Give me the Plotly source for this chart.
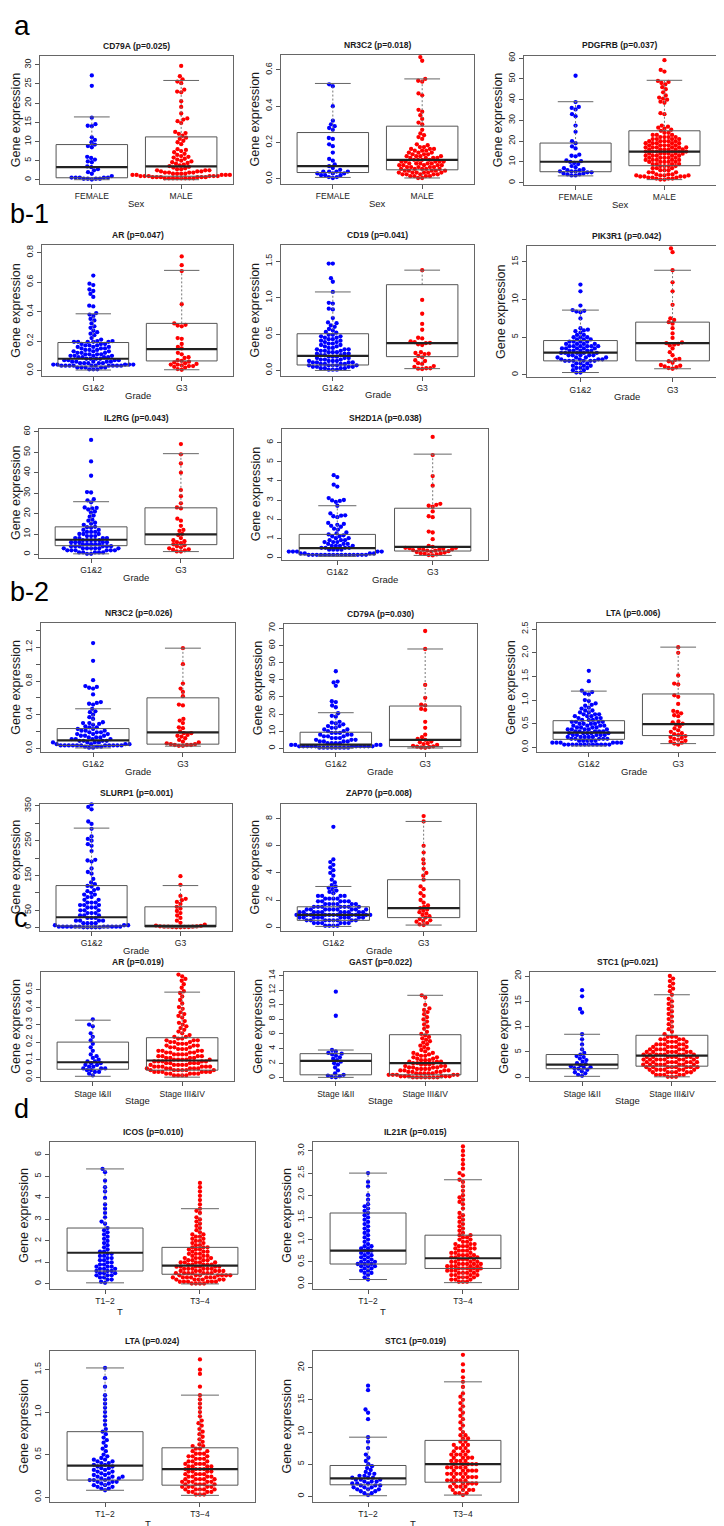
import math
import plotly.graph_objects as go

# ------------------------------------------------------------------ data
# (a) Sex
a_cd79a_female = [27.2, 24.5, 16.2, 14.5, 14.1, 14.0, 11.1, 10.4, 9.8, 9.2, 8.8, 8.5, 6.0, 5.7, 5.3, 4.8, 4.6, 3.5, 3.3, 2.8, 2.5, 2.0, 1.6, 1.0, *[0.6]*5, *[0.3]*4, 0.1]
a_cd79a_male = [29.7, 27.0, 26.2, 25.6, 25.2, 23.5, 23.0, 22.8, 20.5, 19.0, 17.3, 16.0, 15.7, 15.3, 14.8, 12.5, 12.2, 12.0, 11.5, 11.0, 10.7, 10.2, 9.8, 9.3, 8.0, 7.8, 7.5, 7.2, 6.8, 6.5, 6.2, 6.0, 5.8, 5.5, 5.3, 5.0, 4.8, 4.6, 4.4, 4.2, 4.0, 3.8, 3.6, 3.4, 3.2, 3.0, *[2.8]*2, *[2.5]*3, *[2.2]*3, *[1.9]*4, *[1.6]*4, *[1.3]*5, *[1.0]*6, *[0.7]*6, *[0.4]*8]
a_nr3c2_female = [0.52, 0.51, 0.40, 0.32, 0.30, 0.29, 0.28, 0.27, 0.225, 0.22, 0.19, 0.18, 0.145, 0.11, 0.10, 0.08, 0.07, 0.06, 0.05, *[0.04]*4, *[0.03]*3, *[0.02]*3, *[0.01]*2, 0.005]
a_nr3c2_male = [0.67, 0.65, 0.55, 0.54, 0.535, 0.47, 0.46, 0.38, 0.37, 0.35, 0.33, 0.31, 0.30, 0.27, 0.25, 0.24, 0.23, 0.22, 0.19, 0.185, *[0.175]*2, *[0.165]*3, *[0.155]*3, *[0.145]*3, *[0.135]*3, *[0.125]*4, *[0.115]*4, *[0.105]*4, *[0.095]*5, *[0.085]*5, *[0.075]*5, *[0.065]*5, *[0.055]*5, *[0.045]*5, *[0.035]*6, *[0.025]*5, *[0.015]*4, *[0.005]*2]
a_pdgfrb_female = [51.5, 38.8, 36.5, 36.0, 35.3, 33.0, 32.0, 27.5, 24.5, 20.0, 19.0, 17.5, 16.5, 13.5, 13.0, 12.7, 10.7, 10.4, 10.0, 9.5, 9.0, 8.0, 7.5, 7.0, 6.5, *[6.0]*2, *[5.5]*3, *[5.0]*2, *[4.5]*2, *[4.0]*2, *[3.5]*2]
a_pdgfrb_male = [59.0, 54.3, 53.5, 49.0, 48.5, 48.0, 47.3, 46.0, 45.0, 43.5, 42.0, 41.0, 40.5, 40.0, 39.0, 38.5, 33.5, 33.0, 27.5, 27.0, 26.5, 26.0, 25.5, 25.0, *[24]*2, *[23]*3, *[22]*4, *[21]*4, *[20]*5, *[19]*5, *[18]*5, *[17]*6, *[16]*6, *[15]*6, *[14]*6, *[13]*5, *[12]*5, *[11]*5, *[10]*5, *[9]*4, *[8]*4, *[7]*3, *[6]*3, *[5]*3, *[4]*3, *[3.5]*4, *[3]*4, *[2.5]*3, *[2]*3, *[1.5]*2]
# box stats: lower whisker, Q1, median, Q3, upper whisker
a_cd79a_female_box = [0.05, 0.55, 3.3, 9.2, 16.4]
a_cd79a_male_box = [0.05, 0.95, 3.5, 11.2, 25.9]
a_nr3c2_female_box = [0.008, 0.035, 0.07, 0.255, 0.525]
a_nr3c2_male_box = [0.005, 0.05, 0.105, 0.29, 0.55]
a_pdgfrb_female_box = [3.3, 5.3, 10.1, 19.1, 39.0]
a_pdgfrb_male_box = [1.5, 8.2, 15.0, 25.0, 49.3]

# (b-1) Grade
b1_ar_g12 = [0.645, 0.59, 0.58, 0.55, 0.54, 0.52, 0.50, 0.44, 0.435, 0.39, 0.38, 0.37, 0.35, 0.34, 0.32, 0.30, 0.29, 0.27, 0.26, 0.25, 0.24, 0.22, 0.21, 0.20, 0.20, *[0.195]*5, *[0.18]*3, *[0.17]*3, *[0.16]*3, *[0.15]*3, *[0.14]*3, *[0.13]*3, *[0.12]*3, *[0.11]*4, *[0.10]*4, *[0.09]*4, *[0.08]*4, *[0.07]*4, *[0.06]*5, *[0.05]*5, *[0.04]*5, *[0.033]*10, *[0.02]*5, *[0.008]*3]
b1_ar_g3 = [0.775, 0.715, 0.675, 0.45, 0.32, 0.31, 0.305, 0.30, 0.22, 0.215, 0.18, 0.16, 0.15, 0.12, 0.11, 0.09, 0.085, 0.07, 0.065, 0.06, 0.055, 0.05, 0.045, 0.04, 0.04, 0.035, 0.03, 0.03, 0.025, 0.02, 0.01, 0.005]
b1_cd19_g12 = [1.47, 1.47, 1.27, 1.22, 1.08, 0.93, 0.92, 0.85, 0.84, 0.72, 0.66, 0.65, 0.62, 0.60, 0.57, 0.55, 0.53, 0.52, *[0.49]*2, *[0.47]*2, *[0.45]*2, *[0.43]*2, *[0.41]*2, *[0.39]*2, *[0.37]*2, *[0.35]*2, *[0.33]*2, *[0.31]*2, *[0.29]*3, *[0.27]*3, *[0.25]*3, *[0.23]*3, *[0.21]*3, *[0.19]*3, *[0.17]*3, *[0.15]*3, *[0.13]*4, *[0.11]*4, *[0.09]*4, *[0.07]*5, *[0.05]*4, *[0.03]*4, *[0.01]*3]
b1_cd19_g3 = [1.38, 0.97, 0.78, 0.64, 0.56, 0.45, 0.44, 0.40, 0.39, 0.38, 0.375, 0.36, 0.35, 0.25, 0.24, 0.23, 0.225, 0.20, 0.18, 0.14, 0.13, 0.10, 0.09, 0.06, 0.05, 0.03, 0.03, 0.025, 0.02]
b1_pik3r1_g12 = [12.0, 11.1, 9.2, 8.6, 8.5, 8.4, 8.3, 7.5, 6.2, 6.0, 5.9, 5.8, 5.6, *[5.3]*2, *[5.0]*3, *[4.7]*3, *[4.4]*4, *[4.1]*4, *[3.8]*6, *[3.5]*5, *[3.2]*5, *[2.9]*5, *[2.6]*5, *[2.3]*4, *[2.05]*4, *[1.85]*6, *[1.5]*3, *[1.2]*3, *[0.9]*3, *[0.6]*2, *[0.3]*2]
b1_pik3r1_g3 = [16.8, 16.3, 13.9, 12.3, 11.1, 9.3, 7.5, 7.3, 7.0, 6.8, 6.2, 5.5, 4.9, 4.3, 4.2, 4.1, 4.0, 3.9, 3.5, 3.0, 2.6, 2.1, 2.0, 1.8, 1.6, 1.3, 1.2, 1.1, 1.0, 0.9, 0.8]
b1_il2rg_g12 = [56.0, 45.5, 38.5, 30.5, 30.3, 27.0, 26.5, 25.5, 23.0, 22.8, 22.5, 22.0, 21.0, 20.5, 19.0, 18.5, 17.0, 16.5, 15.5, 15.0, 14.5, 13.5, 13.3, 13.0, *[12]*2, *[11]*3, *[10]*3, *[9]*3, *[8]*4, *[7]*5, *[6]*5, *[5]*5, *[4]*6, *[3]*7, *[2]*6, *[1]*5, *[0.3]*2]
b1_il2rg_g3 = [54.0, 49.0, 44.5, 40.0, 31.5, 28.5, 25.0, 23.0, 22.5, 17.5, 16.5, 14.0, 12.0, 11.5, 10.0, 9.5, 8.0, 7.0, 6.5, 6.0, 5.5, 5.0, 4.5, 4.0, 3.5, 3.0, 2.5, 2.3, 2.0, 1.5, 1.4]
b1_sh2d1a_g12 = [4.3, 4.2, 3.8, 3.7, 3.1, 3.0, 2.98, 2.95, 2.9, 2.7, 2.3, 2.2, 2.18, 2.15, 2.1, 1.8, 1.75, 1.7, 1.65, 1.6, 1.5, 1.45, 1.3, 1.25, 1.2, 1.15, *[1.1]*2, *[1.0]*2, *[0.9]*3, *[0.8]*3, *[0.7]*3, *[0.6]*4, *[0.5]*4, *[0.4]*4, *[0.3]*5, *[0.2]*4, *[0.13]*15]
b1_sh2d1a_g3 = [6.3, 5.35, 4.25, 3.75, 2.8, 2.75, 2.7, 2.65, 2.4, 2.15, 2.1, 1.35, 1.3, 0.95, 0.6, 0.55, 0.5, 0.5, 0.48, 0.45, 0.45, 0.42, 0.4, 0.4, 0.38, 0.35, 0.35, 0.32, 0.3, 0.28, 0.25, 0.22, 0.2, 0.18, 0.15, 0.12, 0.1]
b1_ar_g12_box = [0.003, 0.03, 0.08, 0.19, 0.385]
b1_ar_g3_box = [0.005, 0.065, 0.145, 0.32, 0.68]
b1_cd19_g12_box = [0.0, 0.075, 0.2, 0.505, 1.08]
b1_cd19_g3_box = [0.025, 0.19, 0.375, 1.18, 1.38]
b1_pik3r1_g12_box = [0.3, 1.85, 2.95, 4.55, 8.6]
b1_pik3r1_g3_box = [0.8, 1.85, 4.2, 7.0, 13.9]
b1_il2rg_g12_box = [0.3, 4.3, 7.2, 13.5, 25.8]
b1_il2rg_g3_box = [1.4, 4.8, 9.8, 22.8, 49.3]
b1_sh2d1a_g12_box = [0.05, 0.13, 0.48, 1.2, 2.7]
b1_sh2d1a_g3_box = [0.1, 0.33, 0.55, 2.57, 5.4]

# (b-2) Grade
b2_nr3c2_g12 = [1.25, 1.04, 0.81, 0.74, 0.73, 0.72, 0.71, 0.64, 0.55, 0.54, 0.53, 0.52, 0.47, 0.44, 0.43, 0.40, 0.37, 0.35, 0.31, 0.30, 0.30, 0.29, 0.28, 0.26, 0.25, 0.25, *[0.23]*2, *[0.21]*3, *[0.19]*3, *[0.17]*3, *[0.15]*3, *[0.13]*3, *[0.11]*4, *[0.09]*4, *[0.07]*4, *[0.05]*4, *[0.035]*11, *[0.02]*3, *[0.008]*2]
b2_nr3c2_g3 = [1.19, 1.0, 0.77, 0.71, 0.67, 0.62, 0.52, 0.51, 0.35, 0.33, 0.30, 0.25, 0.24, 0.20, 0.18, 0.18, 0.16, 0.15, 0.14, 0.12, 0.10, 0.08, 0.07, 0.06, 0.05, 0.05, 0.04, 0.04, 0.04, 0.03, 0.03]
b2_cd79a_g12 = [45.0, 39.0, 38.5, 36.5, 27.5, 27.0, 25.0, 24.0, 20.5, 19.0, 18.5, 15.5, 15.0, 14.5, 14.0, *[13]*2, *[12]*2, *[11]*2, *[10]*2, *[9]*3, *[8]*3, *[7]*3, *[6]*3, *[5]*3, *[4]*4, *[3]*4, *[2]*4, *[1.2]*11, *[0.4]*8]
b2_cd79a_g3 = [68.5, 58.0, 37.0, 29.5, 25.5, 25.0, 23.0, 22.5, 15.5, 12.0, 8.0, 6.5, 5.5, 5.0, 4.0, 3.5, 3.0, 2.5, 2.0, 1.5, 1.2, 1.0, 0.8, 0.5, 0.3]
b2_lta_g12 = [1.62, 1.40, 1.2, 1.17, 1.14, 1.12, 1.0, 0.98, 0.93, 0.90, 0.88, 0.84, 0.82, *[0.78]*2, *[0.74]*2, *[0.70]*3, *[0.66]*3, *[0.62]*3, *[0.58]*3, *[0.54]*4, *[0.50]*4, *[0.46]*4, *[0.42]*4, *[0.38]*5, *[0.34]*5, *[0.30]*5, *[0.26]*5, *[0.22]*5, *[0.18]*5, *[0.14]*5, *[0.10]*6, *[0.06]*12]
b2_lta_g3 = [2.12, 2.0, 1.52, 1.35, 1.33, 1.1, 1.07, 0.92, 0.77, 0.75, 0.72, 0.68, 0.66, 0.55, 0.53, 0.5, 0.48, 0.44, 0.4, 0.36, 0.33, 0.3, 0.28, 0.26, 0.24, 0.22, 0.2, 0.18, 0.16, 0.14, 0.12, 0.1, 0.08, 0.06]
b2_slurp1_g12 = [354, 347, 340, 305, 298, 284, 262, 255, 250, 240, 235, 220, 195, 193, 190, 170, 160, 155, 140, 130, 125, 120, 118, 112, 108, 105, 100, *[95]*2, *[88]*2, *[80]*2, *[72]*3, *[65]*3, *[58]*3, *[50]*3, *[42]*3, *[35]*3, *[28]*3, *[20]*4, *[13]*4, *[7]*3, *[3]*11, *[1]*5]
b2_slurp1_g3 = [148, 123, 91, 83, 79, 74, 68, 60, 55, 48, 42, 35, 28, 20, 14, 9, 6, 5, 4, 4, 3, 3, 3, 2, 2, 2, 1, 1]
b2_zap70_g12 = [7.4, 5.0, 4.8, 4.6, 4.4, 4.2, 4.0, 3.8, 3.5, 3.3, 3.1, 3.0, 2.9, 2.8, 2.7, 2.6, 2.5, *[2.3]*4, *[2.1]*4, *[1.9]*5, *[1.7]*6, *[1.5]*7, *[1.3]*9, *[1.1]*10, *[0.9]*11, *[0.7]*10, *[0.5]*8, *[0.3]*6, *[0.1]*4]
b2_zap70_g3 = [8.2, 7.8, 6.0, 5.5, 5.0, 4.7, 4.3, 4.0, 3.8, 3.5, 3.0, 2.8, 2.5, 2.3, 2.0, 1.8, 1.6, 1.5, 1.4, 1.3, 1.2, 1.1, 1.0, 0.9, 0.8, 0.7, 0.6, 0.5, 0.45, 0.4, 0.3, 0.2, 0.15]
b2_nr3c2_g12_box = [0.005, 0.035, 0.095, 0.235, 0.47]
b2_nr3c2_g3_box = [0.026, 0.05, 0.19, 0.6, 1.19]
b2_cd79a_g12_box = [0.1, 0.6, 2.2, 9.4, 20.8]
b2_cd79a_g3_box = [0.2, 1.0, 5.0, 24.7, 58.0]
b2_lta_g12_box = [0.03, 0.17, 0.31, 0.565, 1.19]
b2_lta_g3_box = [0.08, 0.25, 0.49, 1.13, 2.12]
b2_slurp1_g12_box = [0, 5, 30, 121, 286]
b2_slurp1_g3_box = [0, 2, 5, 60, 121]
b2_zap70_g12_box = [0.05, 0.5, 0.9, 1.5, 3.0]
b2_zap70_g3_box = [0.15, 0.7, 1.4, 3.5, 7.8]

# (c) Stage
c_ar_s12 = [0.33, 0.30, 0.29, 0.25, 0.23, 0.21, 0.19, 0.17, 0.15, 0.13, 0.12, 0.11, 0.1, 0.09, 0.09, 0.08, 0.08, 0.07, 0.07, 0.06, 0.06, 0.05, 0.05, 0.05, 0.04, 0.04, 0.03, 0.03, 0.02, 0.01]
c_ar_s34 = [0.585, 0.575, 0.56, 0.55, 0.53, 0.51, 0.49, 0.48, 0.46, 0.44, 0.42, 0.40, 0.39, 0.37, 0.36, 0.35, 0.34, 0.32, 0.31, 0.30, 0.29, 0.28, 0.27, 0.26, 0.25, 0.24, *[0.23]*2, *[0.22]*2, *[0.21]*3, *[0.20]*3, *[0.19]*3, *[0.18]*3, *[0.17]*3, *[0.16]*3, *[0.15]*4, *[0.14]*4, *[0.13]*4, *[0.12]*4, *[0.11]*4, *[0.10]*5, *[0.09]*5, *[0.08]*5, *[0.07]*5, *[0.06]*6, *[0.05]*6, *[0.04]*6, *[0.03]*6, *[0.02]*5, *[0.01]*4]
c_gast_s12 = [11.8, 8.5, 3.8, 3.6, 3.4, 3.3, 3.2, 3.0, 2.8, 2.6, 2.4, 2.2, 2.0, 1.8, 1.4, 1.0, 0.6, 0.4, 0.3, 0.2, 0.1, 0.05]
c_gast_s34 = [11.3, 11.0, 10.0, 9.5, 9.3, 9.0, 8.7, 8.3, 8.0, 7.7, 7.3, 7.0, 6.7, 6.3, 6.0, 5.8, 5.6, 5.4, 5.2, 5.0, 4.8, 4.6, 4.4, 4.2, 4.0, 3.8, 3.6, *[3.4]*2, *[3.2]*2, *[3.0]*2, *[2.8]*2, *[2.6]*2, *[2.4]*3, *[2.2]*3, *[2.0]*3, *[1.8]*3, *[1.6]*3, *[1.4]*4, *[1.2]*4, *[1.0]*4, *[0.8]*4, *[0.6]*5, *[0.4]*5, *[0.2]*6, *[0.05]*7]
c_stc1_s12 = [17.2, 16.0, 13.5, 12.8, 8.5, 7.5, 6.5, 5.5, 4.8, 4.5, 4.2, 4.0, 3.7, 3.4, 3.1, 2.8, 2.6, 2.4, 2.2, 2.0, 1.9, 1.8, 1.7, 1.5, 1.2, 1.0, 0.8, 0.5, 0.3]
c_stc1_s34 = [20.0, 19.5, 19.0, 18.5, 18.0, 17.5, 17.0, 16.3, 15.5, 15.0, 14.5, 14.0, 13.5, 13.0, 12.5, 12.0, 11.5, 11.0, 10.5, 10.0, 9.5, 9.0, 8.5, *[8.0]*3, *[7.5]*4, *[7.0]*4, *[6.5]*5, *[6.0]*5, *[5.5]*6, *[5.0]*7, *[4.5]*8, *[4.0]*8, *[3.5]*8, *[3.0]*8, *[2.5]*8, *[2.0]*8, *[1.5]*7, *[1.0]*6, *[0.5]*5, *[0.1]*3]
c_ar_s12_box = [0.005, 0.045, 0.085, 0.2, 0.325]
c_ar_s34_box = [0.0, 0.04, 0.095, 0.225, 0.485]
c_gast_s12_box = [0.05, 0.4, 2.3, 3.3, 3.8]
c_gast_s34_box = [0.0, 0.4, 2.0, 5.9, 11.3]
c_stc1_s12_box = [0.2, 1.7, 2.5, 4.5, 8.5]
c_stc1_s34_box = [0.1, 2.2, 4.3, 8.3, 16.3]

# (d) T
d_icos_t12 = [5.35, 5.2, 4.8, 4.5, 4.3, 4.0, 3.7, 3.5, 3.3, 3.1, 2.9, 2.8, 2.6, 2.5, 2.4, 2.3, 2.2, 2.1, 2.0, 1.9, 1.8, 1.7, 1.6, *[1.5]*2, *[1.4]*2, *[1.3]*2, *[1.2]*2, *[1.1]*2, *[1.0]*2, *[0.9]*2, *[0.8]*3, *[0.7]*3, *[0.6]*3, *[0.5]*3, *[0.4]*3, *[0.3]*2, *[0.2]*2, 0.1, 0.05]
d_icos_t34 = [4.7, 4.5, 4.3, 4.1, 3.9, 3.7, 3.5, 3.4, 3.3, 3.1, 3.0, 2.9, 2.8, 2.7, 2.6, 2.5, 2.4, *[2.3]*2, *[2.2]*2, *[2.1]*2, *[2.0]*2, *[1.9]*2, *[1.8]*2, *[1.7]*3, *[1.6]*3, *[1.5]*3, *[1.4]*3, *[1.3]*3, *[1.2]*4, *[1.1]*4, *[1.0]*5, *[0.9]*5, *[0.8]*6, *[0.7]*6, *[0.6]*6, *[0.5]*7, *[0.4]*7, *[0.3]*7, *[0.2]*6, *[0.1]*6, *[0.02]*4]
d_il21r_t12 = [2.5, 2.3, 2.2, 2.0, 1.9, 1.8, 1.75, 1.7, 1.65, 1.6, 1.55, 1.5, 1.45, 1.4, 1.35, 1.3, 1.25, 1.2, 1.15, 1.1, 1.05, 1.0, 0.95, 0.9, *[0.85]*2, *[0.8]*2, *[0.75]*2, *[0.7]*2, *[0.65]*2, *[0.6]*2, *[0.55]*2, *[0.5]*3, *[0.45]*3, *[0.4]*3, *[0.35]*2, *[0.3]*2, *[0.25]*2, 0.2, 0.15, 0.1]
d_il21r_t34 = [3.1, 3.0, 2.9, 2.8, 2.7, 2.6, 2.5, 2.45, 2.35, 2.3, 2.2, 2.1, 2.0, 1.95, 1.9, 1.85, 1.8, 1.7, 1.6, 1.55, 1.5, 1.45, 1.4, 1.35, 1.3, 1.25, 1.2, 1.15, *[1.1]*2, *[1.05]*2, *[1.0]*2, *[0.95]*2, *[0.9]*3, *[0.85]*3, *[0.8]*3, *[0.75]*3, *[0.7]*3, *[0.65]*4, *[0.6]*4, *[0.55]*4, *[0.5]*4, *[0.45]*5, *[0.4]*5, *[0.35]*5, *[0.3]*5, *[0.25]*4, *[0.2]*4, *[0.15]*4, *[0.1]*3, *[0.05]*3]
d_lta_t12 = [1.52, 1.4, 1.3, 1.2, 1.15, 1.1, 1.05, 1.0, 0.95, 0.9, 0.85, 0.8, 0.77, 0.74, 0.7, 0.67, 0.64, 0.6, 0.57, 0.54, 0.5, 0.48, 0.46, *[0.44]*2, *[0.42]*2, *[0.4]*2, *[0.38]*2, *[0.36]*2, *[0.34]*2, *[0.32]*2, *[0.3]*2, *[0.28]*2, *[0.26]*2, *[0.24]*3, *[0.22]*3, *[0.2]*3, *[0.18]*3, *[0.16]*2, *[0.14]*2, *[0.12]*2, *[0.1]*2, 0.08]
d_lta_t34 = [1.62, 1.5, 1.45, 1.3, 1.2, 1.15, 1.1, 1.05, 1.0, 0.95, 0.9, 0.87, 0.84, 0.8, 0.77, 0.74, 0.71, 0.68, 0.65, 0.62, *[0.6]*2, *[0.57]*2, *[0.54]*2, *[0.51]*3, *[0.48]*3, *[0.45]*3, *[0.42]*3, *[0.39]*4, *[0.36]*4, *[0.33]*4, *[0.3]*4, *[0.27]*4, *[0.24]*4, *[0.21]*5, *[0.18]*5, *[0.15]*5, *[0.12]*5, *[0.09]*5, *[0.06]*4, *[0.03]*3]
d_stc1_t12 = [17.2, 16.5, 13.5, 13.0, 12.0, 9.2, 8.5, 7.5, 6.5, 6.0, 5.5, 5.0, 4.7, 4.4, 4.1, 3.8, *[3.5]*2, *[3.2]*2, *[2.9]*3, *[2.6]*3, *[2.3]*3, *[2.0]*3, *[1.7]*3, *[1.4]*3, *[1.1]*3, *[0.8]*2, *[0.5]*2, 0.2]
d_stc1_t34 = [22.0, 20.5, 19.5, 18.5, 17.8, 17.0, 16.0, 15.5, 15.0, 14.5, 14.0, 13.5, 13.0, 12.5, 12.0, 11.5, 11.0, 10.5, 10.0, *[9.5]*2, *[9.0]*2, *[8.5]*2, *[8.0]*3, *[7.5]*3, *[7.0]*3, *[6.5]*4, *[6.0]*4, *[5.5]*4, *[5.0]*5, *[4.5]*5, *[4.0]*5, *[3.5]*5, *[3.0]*5, *[2.5]*5, *[2.0]*5, *[1.5]*4, *[1.0]*4, *[0.5]*3, 0.2]
d_icos_t12_box = [0.05, 0.6, 1.45, 2.6, 5.35]
d_icos_t34_box = [0.0, 0.45, 0.85, 1.7, 3.5]
d_il21r_t12_box = [0.1, 0.45, 0.75, 1.6, 2.5]
d_il21r_t34_box = [0.03, 0.35, 0.58, 1.1, 2.35]
d_lta_t12_box = [0.08, 0.2, 0.37, 0.77, 1.52]
d_lta_t34_box = [0.02, 0.14, 0.33, 0.58, 1.2]
d_stc1_t12_box = [0.1, 1.8, 2.8, 4.8, 9.2]
d_stc1_t34_box = [0.2, 2.2, 5.0, 8.7, 17.8]

sex_labels = ["FEMALE", "MALE"]
grade_labels = ["G1&2", "G3"]
stage_labels = ["Stage I&II", "Stage III&IV"]
t_labels = ["T1\u22122", "T3\u22124"]

# ------------------------------------------------------------------ layout
W, H = 724, 1526
FONT = "Liberation Sans"
BLUE, RED = "#0000ff", "#ff0000"
XR = (0.42, 2.58)


def ticks(start, stop, step, fmt, show=None):
    vals, txt = [], []
    n = int(round((stop - start) / step))
    for i in range(n + 1):
        v = start + i * step
        vals.append(v)
        lab = fmt.format(v)
        if show is not None and i not in show:
            lab = ""
        txt.append(lab)
    return vals, txt


panels = [
    # title, frame(x0,x1,top,bottom), yrange, yticks, cats, xlabel, xlabel position (x, offset), groups
    ("CD79A (p=0.025)", (32, 225, 41.5, 170), (-1.1, 32.2), ticks(0, 30, 5, "{:.0f}"), sex_labels, "Sex", (None, 19.5),
     [(a_cd79a_female, a_cd79a_female_box), (a_cd79a_male, a_cd79a_male_box)]),
    ("NR3C2 (p=0.018)", (273, 466, 40.5, 169.5), (-0.026, 0.68), ticks(0, 0.6, 0.2, "{:.1f}"), sex_labels, "Sex", (None, 19.5),
     [(a_nr3c2_female, a_nr3c2_female_box), (a_nr3c2_male, a_nr3c2_male_box)]),
    ("PDGFRB (p=0.037)", (516, 708, 41, 170.5), (-0.9, 61.1), ticks(0, 60, 10, "{:.0f}"), sex_labels, "Sex", (None, 19.5),
     [(a_pdgfrb_female, a_pdgfrb_female_box), (a_pdgfrb_male, a_pdgfrb_male_box)]),
    ("AR (p=0.047)", (34, 225, 231.7, 363), (-0.038, 0.849), ticks(0, 0.8, 0.2, "{:.1f}"), grade_labels, "Grade", (None, 19.5),
     [(b1_ar_g12, b1_ar_g12_box), (b1_ar_g3, b1_ar_g3_box)]),
    ("CD19 (p=0.041)", (273, 466, 231.5, 362.5), (-0.071, 1.722), ticks(0, 1.5, 0.5, "{:.1f}"), grade_labels, "Grade", (None, 19.5),
     [(b1_cd19_g12, b1_cd19_g12_box), (b1_cd19_g3, b1_cd19_g3_box)]),
    ("PIK3R1 (p=0.042)", (519, 718, 232.7, 364.4), (-0.36, 17.06), ticks(0, 15, 5, "{:.0f}"), grade_labels, "Grade", (None, 19.5),
     [(b1_pik3r1_g12, b1_pik3r1_g12_box), (b1_pik3r1_g3, b1_pik3r1_g3_box)]),
    ("IL2RG (p=0.043)", (31, 225, 415.7, 545.5), (-1.56, 61.6), ticks(0, 60, 10, "{:.0f}"), grade_labels, "Grade", (None, 19.5),
     [(b1_il2rg_g12, b1_il2rg_g12_box), (b1_il2rg_g3, b1_il2rg_g3_box)]),
    ("SH2D1A (p=0.038)", (274, 480, 415.7, 548), (-0.146, 6.74), ticks(0, 6, 1, "{:.0f}"), grade_labels, "Grade", (None, 19.5),
     [(b1_sh2d1a_g12, b1_sh2d1a_g12_box), (b1_sh2d1a_g3, b1_sh2d1a_g3_box)]),
    ("NR3C2 (p=0.026)", (33, 227, 611.7, 740.7), (-0.041, 1.483), ticks(0, 1.4, 0.2, "{:.1f}", show={0, 2, 4, 6}), grade_labels, "Grade", (None, 19.5),
     [(b2_nr3c2_g12, b2_nr3c2_g12_box), (b2_nr3c2_g3, b2_nr3c2_g3_box)]),
    ("CD79A (p=0.030)", (276, 469, 612.7, 741), (-2.2, 72.3), ticks(0, 70, 10, "{:.0f}"), grade_labels, "Grade", (None, 19.5),
     [(b2_cd79a_g12, b2_cd79a_g12_box), (b2_cd79a_g3, b2_cd79a_g3_box)]),
    ("LTA (p=0.006)", (529, 722, 611.7, 741), (-0.1, 2.62), ticks(0, 2.5, 0.5, "{:.1f}"), grade_labels, "Grade", (None, 19.5),
     [(b2_lta_g12, b2_lta_g12_box), (b2_lta_g3, b2_lta_g3_box)]),
    ("SLURP1 (p=0.001)", (32, 224, 792.7, 921), (-10, 356.6), ticks(0, 350, 50, "{:.0f}", show={0, 1, 3, 5, 7}), grade_labels, "Grade", (None, 19.5),
     [(b2_slurp1_g12, b2_slurp1_g12_box), (b2_slurp1_g3, b2_slurp1_g3_box)]),
    ("ZAP70 (p=0.008)", (273, 468, 793, 921), (-0.3, 9.1), ticks(0, 8, 2, "{:.0f}"), grade_labels, "Grade", (None, 19.5),
     [(b2_zap70_g12, b2_zap70_g12_box), (b2_zap70_g3, b2_zap70_g3_box)]),
    ("AR (p=0.019)", (33, 226, 962, 1072), (-0.024, 0.6), ticks(0, 0.5, 0.1, "{:.1f}"), stage_labels, "Stage", (None, 19.5),
     [(c_ar_s12, c_ar_s12_box), (c_ar_s34, c_ar_s34_box)]),
    ("GAST (p=0.022)", (276, 469, 962, 1072), (-0.5, 14.5), ticks(0, 14, 2, "{:.0f}"), stage_labels, "Stage", (None, 19.5),
     [(c_gast_s12, c_gast_s12_box), (c_gast_s34, c_gast_s34_box)]),
    ("STC1 (p=0.021)", (522, 716, 962, 1072), (-0.8, 20.8), ticks(0, 20, 5, "{:.0f}"), stage_labels, "Stage", (None, 19.5),
     [(c_stc1_s12, c_stc1_s12_box), (c_stc1_s34, c_stc1_s34_box)]),
    ("ICOS (p=0.010)", (42, 247, 1133, 1281), (-0.25, 6.6), ticks(0, 6, 1, "{:.0f}"), t_labels, "T", (112, 22.5),
     [(d_icos_t12, d_icos_t12_box), (d_icos_t34, d_icos_t34_box)]),
    ("IL21R (p=0.015)", (305, 510, 1133, 1281), (-0.12, 3.2), ticks(0, 3, 0.5, "{:.1f}"), t_labels, "T", (375, 22.5),
     [(d_il21r_t12, d_il21r_t12_box), (d_il21r_t34, d_il21r_t34_box)]),
    ("LTA (p=0.024)", (42, 247, 1343, 1495), (-0.06, 1.72), ticks(0, 1.5, 0.5, "{:.1f}"), t_labels, "T", (140, 21.5),
     [(d_lta_t12, d_lta_t12_box), (d_lta_t34, d_lta_t34_box)]),
    ("STC1 (p=0.019)", (305, 510, 1343, 1495), (-0.9, 22.6), ticks(0, 20, 5, "{:.0f}"), t_labels, "T", (405, 21.5),
     [(d_stc1_t12, d_stc1_t12_box), (d_stc1_t34, d_stc1_t34_box)]),
]

# letter, left x, vertical centre of text box, font size
letters = [("a", 4, 11, 28), ("b-1", 0, 200, 27), ("b-2", 0, 580, 27), ("c", 4, 908, 27), ("d", 4, 1100, 27)]

DOT = 4.1  # swarm spacing in pixels


def swarm(vals, ppu_y, d=DOT):
    order = sorted(range(len(vals)), key=lambda i: vals[i])
    placed = []
    out = [0.0] * len(vals)
    for i in order:
        y = vals[i] * ppu_y
        near = []
        for px, py in reversed(placed):
            if y - py >= d:
                break
            near.append((px, py))
        cands = [0.0]
        for px, py in near:
            dx = math.sqrt(max(d * d - (py - y) ** 2, 0.0))
            cands += [px + dx, px - dx]
        cands.sort(key=lambda c: (abs(c), c))
        x = 0.0
        for c in cands:
            if all((c - px) ** 2 + (y - py) ** 2 >= d * d - 1e-6 for px, py in near):
                x = c
                break
        placed.append((x, y))
        out[i] = x
    return out


fig = go.Figure()
ann = []

for k, (title, (x0, x1, top, bot), yr, (tv, tt), cats, xlab, (xlab_x, xlab_dy), groups) in enumerate(panels, start=1):
    xa = "x" if k == 1 else f"x{k}"
    ya = "y" if k == 1 else f"y{k}"
    ppu_x = (x1 - x0) / (XR[1] - XR[0])
    ppu_y = (bot - top) / (yr[1] - yr[0])
    for gi, (vals, box) in enumerate(groups):
        offs = swarm(vals, ppu_y)
        c = gi + 1
        fig.add_trace(go.Scatter(
            x=[c + o / ppu_x for o in offs], y=vals, mode="markers",
            marker=dict(size=4.3, color=BLUE if gi == 0 else RED, line=dict(width=0)),
            xaxis=xa, yaxis=ya, hoverinfo="skip", showlegend=False, cliponaxis=False))
    bx, by, mx, my, wx, wy, sx, sy = [], [], [], [], [], [], [], []
    for gi, (vals, box) in enumerate(groups):
        c = gi + 1
        lo, q1, med, q3, hi = box
        bx += [c - 0.4, c + 0.4, c + 0.4, c - 0.4, c - 0.4, None]
        by += [q1, q1, q3, q3, q1, None]
        mx += [c - 0.4, c + 0.4, None]
        my += [med, med, None]
        wx += [c, c, None, c, c, None]
        wy += [q3, hi, None, q1, lo, None]
        sx += [c - 0.2, c + 0.2, None, c - 0.2, c + 0.2, None]
        sy += [hi, hi, None, lo, lo, None]
    common = dict(xaxis=xa, yaxis=ya, hoverinfo="skip", showlegend=False, mode="lines")
    fig.add_trace(go.Scatter(x=wx, y=wy, line=dict(color="#777777", width=1, dash="2px,2px"), **common))
    fig.add_trace(go.Scatter(x=sx, y=sy, line=dict(color="#666666", width=1), **common))
    fig.add_trace(go.Scatter(x=bx, y=by, line=dict(color="#555555", width=1), **common))
    fig.add_trace(go.Scatter(x=mx, y=my, line=dict(color="#222222", width=2.2), **common))

    xkey = "xaxis" if k == 1 else f"xaxis{k}"
    ykey = "yaxis" if k == 1 else f"yaxis{k}"
    fig.update_layout({
        xkey: dict(domain=[x0 / W, x1 / W], range=list(XR), anchor=ya, tickvals=[1, 2], ticktext=cats,
                   ticks="outside", ticklen=4, tickcolor="#555555", showline=True, mirror=True,
                   linecolor="#666666", linewidth=1, showgrid=False, zeroline=False,
                   tickfont=dict(family=FONT, size=8.5, color="#1a1a1a"), fixedrange=True),
        ykey: dict(domain=[1 - bot / H, 1 - top / H], range=list(yr), anchor=xa, tickvals=tv, ticktext=tt,
                   tickangle=-90, ticks="outside", ticklen=4, tickcolor="#555555", showline=True, mirror=True,
                   linecolor="#666666", linewidth=1, showgrid=False, zeroline=False,
                   tickfont=dict(family=FONT, size=9, color="#1a1a1a"), fixedrange=True),
    })
    cx = (x0 + x1) / 2
    ann.append(dict(text=title, x=cx / W, y=1 - (top - 10.5) / H, xref="paper", yref="paper",
                    showarrow=False, xanchor="center", yanchor="middle",
                    font=dict(family=FONT, size=8.5, color="#1a1a1a", weight="bold")))
    ann.append(dict(text=xlab, x=(xlab_x if xlab_x is not None else cx) / W, y=1 - (bot + xlab_dy) / H,
                    xref="paper", yref="paper", showarrow=False, xanchor="center", yanchor="middle",
                    font=dict(family=FONT, size=9.5, color="#1a1a1a")))
    ann.append(dict(text="Gene expression", x=max(x0 - 26, 8) / W, y=1 - ((top + bot) / 2) / H, xref="paper",
                    yref="paper", showarrow=False, xanchor="center", yanchor="middle", textangle=-90,
                    font=dict(family=FONT, size=12.5, color="#1a1a1a")))

for txt, lx, cy, fs in letters:
    ann.append(dict(text=txt, x=lx / W, y=1 - cy / H, xref="paper", yref="paper",
                    showarrow=False, xanchor="left", yanchor="middle",
                    font=dict(family=FONT, size=fs, color="#000000")))

fig.update_layout(width=W, height=H, margin=dict(l=0, r=0, t=0, b=0), paper_bgcolor="white",
                  plot_bgcolor="white", annotations=ann, showlegend=False)

fig.write_html("out.html")
